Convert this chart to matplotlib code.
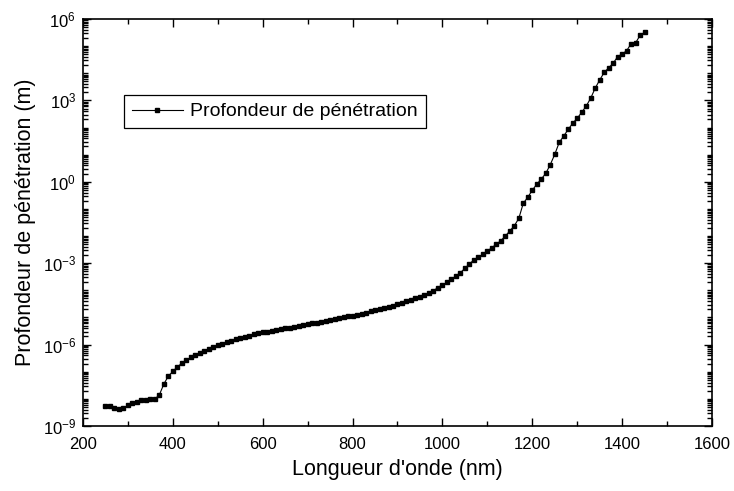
import matplotlib
matplotlib.use("Agg")
import matplotlib.pyplot as plt
import matplotlib.ticker as ticker
import numpy as np

plt.rcParams['font.family'] = ['Liberation Sans', 'DejaVu Sans']
plt.rcParams['mathtext.fontset'] = 'custom'
plt.rcParams['mathtext.rm'] = 'Liberation Sans'
plt.rcParams['mathtext.it'] = 'Liberation Sans:italic'

# wavelength (nm), one point every 10 nm
wavelength = list(range(250, 1451, 10))

# log10 of penetration depth (m)
log_depth = [
    -8.25, -8.28, -8.34, -8.37, -8.35, -8.24, -8.15, -8.11, -8.06, -8.03,   # 250-340
    -8.02, -8.01, -7.85, -7.45, -7.16, -6.99, -6.82, -6.69, -6.57, -6.47,   # 350-440
    -6.38, -6.30, -6.23, -6.15, -6.08, -6.02, -5.97, -5.91, -5.86, -5.81,   # 450-540
    -5.76, -5.72, -5.67, -5.62, -5.59, -5.55, -5.52, -5.49, -5.46, -5.43,   # 550-640
    -5.40, -5.37, -5.34, -5.31, -5.28, -5.25, -5.22, -5.19, -5.16, -5.13,   # 650-740
    -5.10, -5.07, -5.03, -5.00, -4.96, -4.93, -4.90, -4.86, -4.82, -4.78,   # 750-840
    -4.74, -4.70, -4.66, -4.61, -4.56, -4.51, -4.46, -4.40, -4.35, -4.29,   # 850-940
    -4.23, -4.17, -4.11, -4.01, -3.90, -3.80, -3.71, -3.59, -3.47, -3.35,   # 950-1040
    -3.19, -3.03, -2.88, -2.78, -2.67, -2.55, -2.43, -2.30, -2.17, -2.00,   # 1050-1140
    -1.81, -1.62, -1.35, -0.79, -0.57, -0.31, -0.09, 0.10, 0.31, 0.63,      # 1150-1240
    1.01, 1.45, 1.69, 1.93, 2.16, 2.34, 2.56, 2.79, 3.08, 3.45,             # 1250-1340
    3.75, 4.03, 4.20, 4.37, 4.61, 4.71, 4.83, 5.09, 5.12, 5.40,             # 1350-1440
    5.51,                                                                   # 1450
]
depth = 10.0 ** np.array(log_depth)

x_ticks = [200, 400, 600, 800, 1000, 1200, 1400, 1600]
y_ticks = [1e-9, 1e-6, 1e-3, 1e0, 1e3, 1e6]

fig = plt.figure(figsize=(7.34, 4.91), dpi=100)
ax = fig.add_axes([0.1131, 0.1324, 0.8569, 0.8289])

ax.plot(wavelength, depth, color='black', linewidth=0.8, marker='s',
        markersize=2.8, label='Profondeur de pénétration')

ax.set_yscale('log')
ax.set_xlim(200, 1600)
ax.set_ylim(1e-9, 1e6)

ax.xaxis.set_major_locator(ticker.FixedLocator(x_ticks))
ax.xaxis.set_minor_locator(ticker.MultipleLocator(100))
ax.yaxis.set_major_locator(ticker.FixedLocator(y_ticks))
ax.yaxis.set_major_formatter(ticker.LogFormatterSciNotation())
ax.yaxis.set_minor_locator(ticker.LogLocator(base=10, subs=np.arange(1, 10), numticks=100))
ax.yaxis.set_minor_formatter(ticker.NullFormatter())

ax.tick_params(which='both', direction='in', top=True, right=True, labelsize=12, width=1)
ax.tick_params(which='major', length=6)
ax.tick_params(which='minor', length=3.5)
ax.tick_params(axis='x', which='major', pad=8)
ax.tick_params(axis='y', which='major', pad=5)
for s in ax.spines.values():
    s.set_linewidth(1.2)

ax.set_xlabel("Longueur d'onde (nm)", fontsize=15.5, labelpad=5)
ax.set_ylabel('Profondeur de pénétration (m)', fontsize=15.5, labelpad=5)

leg = ax.legend(loc='upper left', bbox_to_anchor=(0.05, 0.837), fontsize=14,
                fancybox=False, framealpha=1, edgecolor='black',
                handlelength=2.6, numpoints=1, borderpad=0.4, handletextpad=0.4)
leg.get_frame().set_linewidth(0.9)

fig.savefig('out.png', dpi=100)
